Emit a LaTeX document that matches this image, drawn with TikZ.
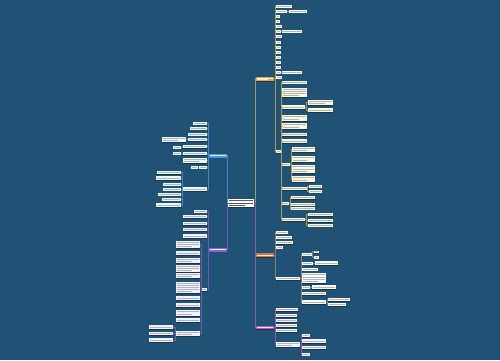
\documentclass[tikz,border=0pt]{standalone}
\usetikzlibrary{shadows}
\definecolor{bgc}{HTML}{1F5275}
\definecolor{olc}{HTML}{A89C5C}
\definecolor{rlc}{HTML}{8E7E6C}
\definecolor{mlc}{HTML}{8C5AAE}
\definecolor{blc}{HTML}{4088C8}
\definecolor{plc}{HTML}{6E58B8}
\definecolor{onf}{HTML}{E8A735}
\definecolor{rnf}{HTML}{E0743A}
\definecolor{mnf}{HTML}{C64EC6}
\definecolor{bnf}{HTML}{4A95DB}
\definecolor{pnf}{HTML}{8E63CF}
\definecolor{ocf}{HTML}{FFF7DA}
\definecolor{rcf}{HTML}{FFFFFF}
\definecolor{mcf}{HTML}{FAF1FB}
\definecolor{bcf}{HTML}{EEF6FD}
\definecolor{pcf}{HTML}{F5F1FC}
\definecolor{tcol}{HTML}{AEB6BF}
\definecolor{tdark}{HTML}{555A60}
\tikzset{
  bxs/.style={draw=none,inner sep=0pt,outer sep=0pt,
    drop shadow={shadow xshift=0.4pt,shadow yshift=-0.6pt,opacity=0.35,fill=black}},
  tl/.style={line width=0.6pt,color=tcol},
  tw/.style={line width=0.6pt,color=white!85!gray},
  td/.style={line width=0.6pt,color=tdark},
  ln/.style={line width=0.8pt},
}
\newcommand\mmbox[7]{%
  \node[bxs,#6,minimum width={(#4-#2)*1pt},minimum height={(#5-#3)*1pt}] (#1) at ({(#2+#4)/2},{(#3+#5)/2}) {};%
  \pgfmathtruncatemacro\mmn{max(1,round((#5-#3-1)/2.2))}%
  \foreach \k in {1,...,\mmn}{%
    \draw[#7] ({#2+1},{#3+0.5+(\k-0.5)*(#5-#3-1)/\mmn}) -- ({#4-1-ifthenelse(\k==\mmn,1,0)*ifthenelse(\mmn>1,1,0)*0.3*(#4-#2)},{#3+0.5+(\k-0.5)*(#5-#3-1)/\mmn});}%
}
\newcommand\cR[4][1]{\draw[ln,#2] (#3.east) -- ++(#1,0) |- (#4.west);}
\newcommand\cL[4][1]{\draw[ln,#2] (#3.west) -- ++(-#1,0) |- (#4.east);}
\begin{document}
\begin{tikzpicture}[x=1pt,y=-1pt]
\fill[bgc] (0,0) rectangle (500,360);
\useasboundingbox (0,0) rectangle (500,360);

% ---------- center ----------
\mmbox{ctr}{228}{199}{254}{207}{fill=white}{td}

% ---------- orange branch ----------
\mmbox{o}{256}{76.5}{274}{81}{fill=onf}{tw}
\mmbox{t1}{276}{5}{292}{7.5}{fill=white}{tl}
\mmbox{t2}{276}{10}{287}{12.5}{fill=white}{tl}
\mmbox{t2a}{289}{10}{307}{12.5}{fill=white}{tl}
\mmbox{t3}{276}{15}{280}{17.5}{fill=white}{tl}
\mmbox{t4}{276}{20}{280}{22.5}{fill=white}{tl}
\mmbox{t5}{276}{25}{282}{27.5}{fill=white}{tl}
\mmbox{t6}{276}{30}{281}{32.5}{fill=white}{tl}
\mmbox{t6a}{282}{30}{302}{32.5}{fill=white}{tl}
\mmbox{t7}{276}{35}{282}{37.5}{fill=white}{tl}
\mmbox{t8}{276}{41}{281}{43.5}{fill=white}{tl}
\mmbox{t9}{276}{46}{281}{48.5}{fill=white}{tl}
\mmbox{t10}{276}{51}{281}{53.5}{fill=white}{tl}
\mmbox{t11}{276}{56}{281}{58.5}{fill=white}{tl}
\mmbox{t12}{276}{61}{281}{63.5}{fill=white}{tl}
\mmbox{t13}{276}{66}{281}{68.5}{fill=white}{tl}
\mmbox{t14}{276}{71}{281}{73.5}{fill=white}{tl}
\mmbox{t14a}{282}{71}{302}{73.5}{fill=white}{tl}
\mmbox{t15}{276}{76}{282}{78.5}{fill=white}{tl}
\mmbox{m}{276}{150}{281}{153}{fill=ocf}{tl}
\mmbox{a}{282}{81}{307}{83.5}{fill=ocf}{tl}
\mmbox{b}{282}{88}{307}{97}{fill=ocf}{tl}
\mmbox{c}{282}{105}{305}{109}{fill=ocf}{tl}
\mmbox{c1}{308}{100}{333}{105}{fill=ocf}{tl}
\mmbox{c2}{308}{108}{333}{112}{fill=ocf}{tl}
\mmbox{d}{282}{115}{307}{121}{fill=ocf}{tl}
\mmbox{e}{282}{123}{307}{129}{fill=ocf}{tl}
\mmbox{f}{282}{133}{307}{136}{fill=ocf}{tl}
\mmbox{g}{282}{139}{307}{143}{fill=ocf}{tl}
\mmbox{h}{282}{163}{290}{165.5}{fill=ocf}{tl}
\mmbox{h1}{292}{147}{315}{152}{fill=ocf}{tl}
\mmbox{h2}{292}{156}{315}{162}{fill=ocf}{tl}
\mmbox{h3}{292}{165}{315}{173}{fill=ocf}{tl}
\mmbox{h4}{292}{176}{315}{182}{fill=ocf}{tl}
\mmbox{i}{282}{187}{307}{190}{fill=ocf}{tl}
\mmbox{i1}{308.5}{185}{322}{187.5}{fill=ocf}{tl}
\mmbox{i2}{308.5}{190}{322}{192.5}{fill=ocf}{tl}
\mmbox{j}{282}{202}{289}{204.5}{fill=ocf}{tl}
\mmbox{j1}{291}{196}{315}{199}{fill=ocf}{tl}
\mmbox{j2}{291}{203}{315}{205.5}{fill=ocf}{tl}
\mmbox{j3}{291}{207}{315}{209.5}{fill=ocf}{tl}
\mmbox{k}{282}{218}{305}{221}{fill=ocf}{tl}
\mmbox{k1}{308}{213}{333}{216}{fill=ocf}{tl}
\mmbox{k2}{308}{219}{333}{222}{fill=ocf}{tl}
\mmbox{k3}{308}{223.5}{333}{226.5}{fill=ocf}{tl}

% ---------- red branch ----------
\mmbox{r}{256}{253}{274}{257}{fill=rnf}{tw}
\mmbox{r1}{276}{231}{288}{233.5}{fill=rcf}{tl}
\mmbox{r2}{276}{236}{292}{238.5}{fill=rcf}{tl}
\mmbox{r3}{276}{241}{293}{244}{fill=rcf}{tl}
\mmbox{r4}{276}{246}{283}{248.5}{fill=rcf}{tl}
\mmbox{r5}{276}{277}{300}{280}{fill=rcf}{tl}
\mmbox{r5a}{302}{253}{312}{255.5}{fill=rcf}{tl}
\mmbox{r5a1}{313.5}{250.5}{319}{253}{fill=rcf}{tl}
\mmbox{r5a2}{313.5}{256}{319}{258.5}{fill=rcf}{tl}
\mmbox{r5b}{302}{262}{313}{264.5}{fill=rcf}{tl}
\mmbox{r5b1}{314.5}{261}{338}{265}{fill=rcf}{tl}
\mmbox{r5c}{302}{268}{318}{270.5}{fill=rcf}{tl}
\mmbox{r5d}{302}{273}{326}{283}{fill=rcf}{tl}
\mmbox{r5e}{302}{286}{310}{288.5}{fill=rcf}{tl}
\mmbox{r5e1}{312}{285}{336}{289}{fill=rcf}{tl}
\mmbox{r5f}{302}{292}{326}{295}{fill=rcf}{tl}
\mmbox{r5g}{302}{300}{326}{304}{fill=rcf}{tl}
\mmbox{r5g1}{328}{298}{350}{301}{fill=rcf}{tl}
\mmbox{r5g2}{328}{303}{346}{306}{fill=rcf}{tl}

% ---------- magenta branch ----------
\mmbox{mg}{256}{325.5}{274}{329}{fill=mnf}{tw}
\mmbox{mg1}{276}{308}{298}{311}{fill=mcf}{tl}
\mmbox{mg2}{276}{314}{297}{317}{fill=mcf}{tl}
\mmbox{mg3}{276}{319}{297}{322}{fill=mcf}{tl}
\mmbox{mg4}{276}{324}{297}{327}{fill=mcf}{tl}
\mmbox{mg5}{276}{329}{297}{332}{fill=mcf}{tl}
\mmbox{mg6}{276}{342}{300}{347}{fill=mcf}{tl}
\mmbox{mg6a}{302}{334}{310}{337}{fill=mcf}{tl}
\mmbox{mg6b}{302}{339}{326}{343}{fill=mcf}{tl}
\mmbox{mg6c}{302}{346}{326}{349}{fill=mcf}{tl}
\mmbox{mg6d}{302}{353}{310}{355.5}{fill=mcf}{tl}

% ---------- blue branch (left) ----------
\mmbox{bl}{209}{154}{227}{157.5}{fill=bnf}{tw}
\mmbox{b1}{193}{122}{207}{124.5}{fill=bcf}{tl}
\mmbox{b2}{190}{127}{207}{129.5}{fill=bcf}{tl}
\mmbox{b3}{188}{133}{207}{135.5}{fill=bcf}{tl}
\mmbox{b4}{188}{138}{207}{141}{fill=bcf}{tl}
\mmbox{b4a}{162}{137}{186}{142}{fill=bcf}{tl}
\mmbox{b5}{183}{145}{207}{148}{fill=bcf}{tl}
\mmbox{b5a}{173}{146}{181}{148.5}{fill=bcf}{tl}
\mmbox{b6}{183}{152}{207}{155}{fill=bcf}{tl}
\mmbox{b6a}{173}{152}{181}{154.5}{fill=bcf}{tl}
\mmbox{b7}{183}{158}{207}{163}{fill=bcf}{tl}
\mmbox{b8}{199}{166}{207}{168.5}{fill=bcf}{tl}
\mmbox{b8a}{191}{166}{197.5}{168.5}{fill=bcf}{tl}
\mmbox{b9}{183}{187}{207}{191}{fill=bcf}{tl}
\mmbox{b9a}{157}{171}{181}{174}{fill=bcf}{tl}
\mmbox{b9b}{156}{176}{181}{180}{fill=bcf}{tl}
\mmbox{b9c}{163}{183}{181}{185.5}{fill=bcf}{tl}
\mmbox{b9d}{163}{188}{181}{190.5}{fill=bcf}{tl}
\mmbox{b9e}{158}{193}{181}{195.5}{fill=bcf}{tl}
\mmbox{b9f}{162}{198}{181}{200.5}{fill=bcf}{tl}
\mmbox{b9g}{156}{203}{181}{207}{fill=bcf}{tl}

% ---------- purple branch (left) ----------
\mmbox{pl}{209}{248}{227}{251.5}{fill=pnf}{tw}
\mmbox{p1}{194}{210}{207}{212.5}{fill=pcf}{tl}
\mmbox{p2}{183}{215}{207}{218}{fill=pcf}{tl}
\mmbox{p3}{183}{222}{207}{225}{fill=pcf}{tl}
\mmbox{p4}{183}{228}{207}{231}{fill=pcf}{tl}
\mmbox{p5}{183}{234}{207}{238}{fill=pcf}{tl}
\mmbox{p6}{202}{288}{207}{291}{fill=pcf}{tl}
\mmbox{q1}{176}{241}{200}{248}{fill=pcf}{tl}
\mmbox{q2}{176}{251}{200}{255}{fill=pcf}{tl}
\mmbox{q3}{176}{258}{200}{263}{fill=pcf}{tl}
\mmbox{q4}{176}{265}{200}{272}{fill=pcf}{tl}
\mmbox{q5}{176}{273}{200}{278}{fill=pcf}{tl}
\mmbox{q6}{176}{282}{200}{293}{fill=pcf}{tl}
\mmbox{q7}{176}{296}{200}{300}{fill=pcf}{tl}
\mmbox{q8}{176}{303}{200}{307}{fill=pcf}{tl}
\mmbox{q9}{176}{310}{200}{316}{fill=pcf}{tl}
\mmbox{q10}{176}{318}{200}{322}{fill=pcf}{tl}
\mmbox{q11}{176}{331}{200}{336}{fill=pcf}{tl}
\mmbox{q11a}{149}{325}{173}{329}{fill=pcf}{tl}
\mmbox{q11b}{149}{332}{173}{335}{fill=pcf}{tl}
\mmbox{q11c}{149}{338}{173}{342}{fill=pcf}{tl}

% ---------- connectors: center ----------
\cR{olc}{ctr}{o}
\cR{rlc}{ctr}{r}
\cR{mlc}{ctr}{mg}
\cL[0.5]{blc}{ctr}{bl}
\cL[0.5]{plc}{ctr}{pl}

% orange
\foreach \n in {t1,t2,t3,t4,t5,t6,t7,t8,t9,t10,t11,t12,t13,t14,t15,m}{\cR{olc}{o}{\n}}
\cR{olc}{t2}{t2a}
\cR[0.5]{olc}{t6}{t6a}
\cR[0.5]{olc}{t14}{t14a}
\foreach \n in {a,b,c,d,e,f,g,h,i,j,k}{\cR[0.5]{olc}{m}{\n}}
\cR[1.5]{olc}{c}{c1}\cR[1.5]{olc}{c}{c2}
\foreach \n in {h1,h2,h3,h4}{\cR{olc}{h}{\n}}
\cR[0.7]{olc}{i}{i1}\cR[0.7]{olc}{i}{i2}
\foreach \n in {j1,j2,j3}{\cR{olc}{j}{\n}}
\foreach \n in {k1,k2,k3}{\cR[1.5]{olc}{k}{\n}}

% red
\foreach \n in {r1,r2,r3,r4,r5}{\cR{rlc}{r}{\n}}
\foreach \n in {r5a,r5b,r5c,r5d,r5e,r5f,r5g}{\cR{rlc}{r5}{\n}}
\cR[0.7]{rlc}{r5a}{r5a1}\cR[0.7]{rlc}{r5a}{r5a2}
\cR[0.7]{rlc}{r5b}{r5b1}
\cR{rlc}{r5e}{r5e1}
\cR{rlc}{r5g}{r5g1}\cR{rlc}{r5g}{r5g2}

% magenta
\foreach \n in {mg1,mg2,mg3,mg4,mg5,mg6}{\cR{mlc}{mg}{\n}}
\foreach \n in {mg6a,mg6b,mg6c,mg6d}{\cR{mlc}{mg6}{\n}}

% blue
\foreach \n in {b1,b2,b3,b4,b5,b6,b7,b8,b9}{\cL{blc}{bl}{\n}}
\cL{blc}{b4}{b4a}
\cL{blc}{b5}{b5a}
\cL{blc}{b6}{b6a}
\cL[0.7]{blc}{b8}{b8a}
\foreach \n in {b9a,b9b,b9c,b9d,b9e,b9f,b9g}{\cL{blc}{b9}{\n}}

% purple
\foreach \n in {p1,p2,p3,p4,p5,p6}{\cL{plc}{pl}{\n}}
\foreach \n in {q1,q2,q3,q4,q5,q6,q7,q8,q9,q10,q11}{\cL{plc}{p6}{\n}}
\foreach \n in {q11a,q11b,q11c}{\cL{plc}{q11}{\n}}
\end{tikzpicture}
\end{document}
